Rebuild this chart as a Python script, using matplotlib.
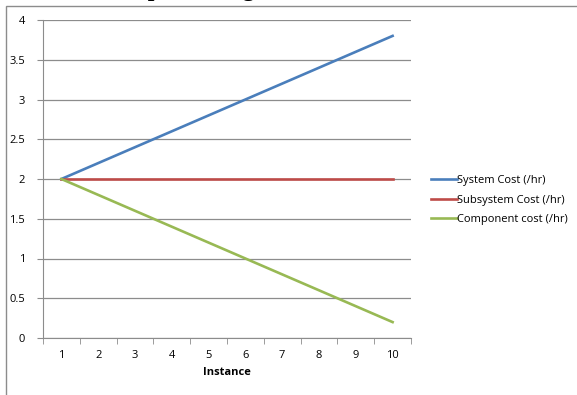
import matplotlib
matplotlib.use("Agg")
import matplotlib.pyplot as plt
from matplotlib import patches

plt.rcParams['font.family'] = ['Open Sans', 'DejaVu Sans']

# data
instances = [1, 2, 3, 4, 5, 6, 7, 8, 9, 10]
system_cost = [2.0, 2.2, 2.4, 2.6, 2.8, 3.0, 3.2, 3.4, 3.6, 3.8]
subsystem_cost = [2.0, 2.0, 2.0, 2.0, 2.0, 2.0, 2.0, 2.0, 2.0, 2.0]
component_cost = [2.0, 1.8, 1.6, 1.4, 1.2, 1.0, 0.8, 0.6, 0.4, 0.2]
y_ticks = [0, 0.5, 1, 1.5, 2, 2.5, 3, 3.5, 4]
y_labels = ['0', '0.5', '1', '1.5', '2', '2.5', '3', '3.5', '4']

W, H = 577, 395
fig = plt.figure(figsize=(W / 100, H / 100), dpi=100)

# outer chart frame (runs off the right and bottom edge)
frame = patches.Rectangle((6 / W, -0.1), 1.2, 1 - 6 / H + 0.1, transform=fig.transFigure,
                          linewidth=1, edgecolor='#8c8c8c', facecolor='none')
fig.add_artist(frame)

# title is cut off by the top edge, only the descenders show
fig.text(96 / W, 1 + 4 / H, 'Cost per Change', fontsize=17, fontweight='bold',
         family='Liberation Serif', va='baseline', ha='left')

ax = fig.add_axes([43 / W, 1 - 338 / H, 368 / W, 318 / H])
ax.plot(instances, system_cost, color='#4a7ebb', lw=1.9, label='System Cost (/hr)')
ax.plot(instances, subsystem_cost, color='#be4b48', lw=1.9, label='Subsystem Cost (/hr)')
ax.plot(instances, component_cost, color='#98b954', lw=1.9, label='Component cost (/hr)')

ax.set_xlim(0.5, 10.5)
ax.set_ylim(0, 4)
ax.set_yticks(y_ticks)
ax.set_yticklabels(y_labels)
ax.set_xticks(instances)
ax.set_xticks([i + 0.5 for i in range(0, 11)], minor=True)
ax.tick_params(axis='x', which='major', length=0, pad=9, labelsize=8)
ax.tick_params(axis='x', which='minor', length=4, color='#8c8c8c', direction='out')
ax.tick_params(axis='y', length=4, color='#8c8c8c', labelsize=8, pad=9)
ax.grid(axis='y', color='#8c8c8c', lw=0.9)
ax.set_axisbelow(True)
for s in ['top', 'right']:
    ax.spines[s].set_visible(False)
for s in ['left', 'bottom']:
    ax.spines[s].set_color('#8c8c8c')
ax.set_xlabel('Instance', fontsize=8, fontweight='bold', labelpad=4)

ax.legend(loc='center left', bbox_to_anchor=(425 / W, 1 - 200 / H),
          bbox_transform=fig.transFigure, frameon=False, fontsize=8,
          handlelength=2.4, handletextpad=0.0, labelspacing=0.75, borderpad=0)

fig.savefig('out.png', dpi=100)
